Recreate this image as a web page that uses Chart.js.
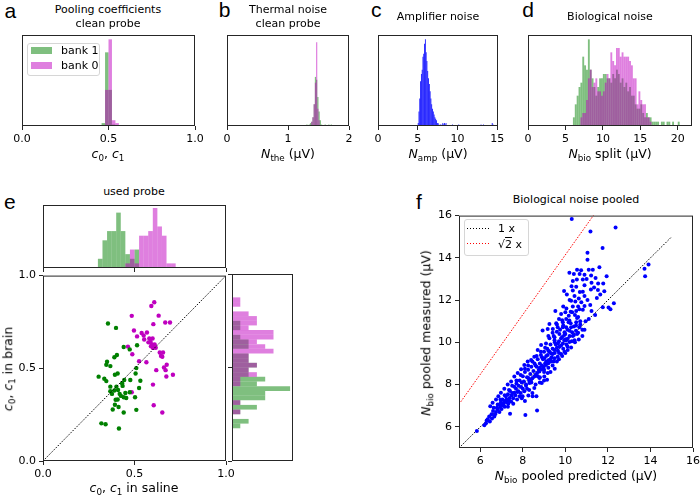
<!DOCTYPE html>
<html>
<head>
<meta charset="utf-8">
<script src="https://cdn.jsdelivr.net/npm/chart.js@4.4.1/dist/chart.umd.min.js"></script>
<style>
body { margin: 0; background: #fff; }
#fig { position: relative; width: 700px; height: 496px; overflow: hidden; background: #fff;
  font-family: 'DejaVu Sans', sans-serif; font-size: 11px; color: #000; }
#fig canvas { position: absolute; }
.t { position: absolute; white-space: nowrap; line-height: 11px; }
.lab { position: absolute; white-space: nowrap; font-size: 12.5px; line-height: 12.5px; }
.t sub, .lab sub { font-size: 70%; vertical-align: baseline; position: relative; top: 0.3em; }
.letter { position: absolute; font-family: 'Liberation Sans', Arial, sans-serif; font-size: 21px; line-height: 21px; }
.leg { position: absolute; border: 1px solid #d6d6d6; border-radius: 3px; background: rgba(255,255,255,0.8); }
.patch { position: absolute; width: 21px; height: 7px; }
.dots { position: absolute; width: 23px; height: 1px; }
</style>
</head>
<body>
<div id="fig"></div>
<script>
// a: pooling coefficients, clean probe (bins of 0.02 starting at 0.46)
const poolBinStart = 0.46, poolBinWidth = 0.02;
const poolBank1 = [2, 51, 25, 1, 0];
const poolBank0 = [0, 25, 60, 4, 2];
const unitTicks = [0, 0.5, 1];
const unitTickLabels = ['0.0', '0.5', '1.0'];

// b: thermal noise, clean probe (bins of 0.02 starting at 1.28)
const thermBinStart = 1.28, thermBinWidth = 0.02;
const thermBank1 = [0, 1, 0, 1, 2, 3, 6, 15, 34, 32, 20, 10, 4, 1, 0, 0, 1, 0, 0, 1, 0, 1];
const thermBank0 = [0, 0, 0, 0, 0, 3, 6, 15, 30, 58, 12, 4, 0, 0, 0, 0, 0, 0, 0, 0, 0, 0];
const thermTicks = [0, 1, 2];
const thermTickLabels = ['0', '1', '2'];

// c: amplifier noise (bins of 0.1 starting at 5.0)
const ampBinStart = 5.0, ampBinWidth = 0.1;
const ampCounts = [
  2, 10, 19, 31, 36, 39, 48, 50, 57, 60,
  51, 45, 38, 33, 29, 24, 19, 15, 12, 10,
  8, 6, 5, 4, 2, 2, 1, 0, 1, 0,
  1, 2, 1, 2, 1, 2, 0, 0, 0, 0,
  0, 0, 0, 1, 0, 0, 0, 0, 0, 0,
  0, 1, 0, 0, 0, 0, 0, 0, 0, 0,
  0, 0, 0, 0, 0, 0, 0, 0, 0, 0,
  0, 0, 0, 0, 0, 0, 0, 0, 0, 1,
  0, 0, 1, 0, 0, 0, 0, 0, 0, 0,
  0, 0, 0, 2, 1
];
const ampTicks = [0, 5, 10, 15];
const ampTickLabels = ['0', '5', '10', '15'];

// d: biological noise split (bins of 0.25 starting at 6.0)
const bioBinStart = 6.0, bioBinWidth = 0.25;
const bioBank1 = [
  2, 5, 7, 9, 10, 16, 14, 13, 20, 13, 11, 9, 7, 9, 11, 11,
  12, 12, 11, 11, 10, 12, 11, 13, 12, 10, 11, 9, 10, 8, 9, 7,
  7, 5, 4, 4, 5, 3, 2, 3, 2, 2, 1, 1, 1, 1, 0, 1,
  1, 0, 1, 1, 0, 1, 0, 0, 1
];
const bioBank0 = [
  0, 0, 0, 0, 2, 3, 3, 6, 11, 13, 9, 10, 11, 8, 8, 7,
  8, 10, 12, 11, 17, 15, 14, 18, 18, 16, 17, 16, 16, 16, 15, 14,
  11, 11, 5, 8, 6, 5, 5, 2, 2, 1, 0, 0, 0, 0, 0, 0,
  0, 0, 0, 0, 0, 0, 0, 0, 0
];
const bioTicks = [0, 5, 10, 15, 20];
const bioTickLabels = ['0', '5', '10', '15', '20'];

// e: used probe, pooling coefficients saline vs brain
const salineBank1 = [0.355, 0.399, 0.441, 0.474, 0.514, 0.404, 0.390, 0.350, 0.346, 0.368,
  0.393, 0.408, 0.304, 0.335, 0.346, 0.444, 0.506, 0.510, 0.477, 0.435,
  0.401, 0.368, 0.368, 0.390, 0.410, 0.419, 0.426, 0.441, 0.455, 0.408,
  0.397, 0.474, 0.503, 0.525, 0.532, 0.393, 0.413, 0.381, 0.441, 0.510,
  0.319, 0.342, 0.415, 0.432, 0.377, 0.450];
const brainBank1 = [0.742, 0.718, 0.615, 0.602, 0.624, 0.572, 0.560, 0.535, 0.519, 0.512,
  0.465, 0.472, 0.455, 0.444, 0.431, 0.437, 0.472, 0.501, 0.437, 0.405,
  0.401, 0.401, 0.376, 0.380, 0.383, 0.362, 0.351, 0.344, 0.340, 0.332,
  0.330, 0.371, 0.344, 0.394, 0.433, 0.303, 0.291, 0.278, 0.262, 0.276,
  0.203, 0.198, 0.175, 0.419, 0.362, 0.367];
const salineBank0 = [0.608, 0.592, 0.632, 0.485, 0.668, 0.694, 0.603, 0.497, 0.539, 0.568,
  0.514, 0.550, 0.581, 0.599, 0.588, 0.576, 0.464, 0.590, 0.601, 0.616,
  0.638, 0.656, 0.645, 0.652, 0.488, 0.565, 0.676, 0.661, 0.710, 0.674,
  0.619, 0.485, 0.601, 0.605, 0.652, 0.525, 0.595, 0.553, 0.610, 0.670];
const brainBank0 = [0.856, 0.836, 0.784, 0.783, 0.747, 0.747, 0.738, 0.704, 0.690, 0.693,
  0.672, 0.677, 0.661, 0.661, 0.642, 0.640, 0.617, 0.619, 0.610, 0.611,
  0.585, 0.585, 0.567, 0.562, 0.576, 0.533, 0.519, 0.504, 0.465, 0.456,
  0.490, 0.371, 0.412, 0.301, 0.262, 0.538, 0.628, 0.655, 0.628, 0.490];
const unitDiagonal = [0, 1];
// marginal histograms (bins of 0.025 starting at 0.3 / 0.175)
const salineBinStart = 0.3, marginBinWidth = 0.025;
const salineHist1 = [2, 6, 8, 8, 12, 8, 3, 2, 4, 0, 0, 0, 0, 0, 0, 0, 0];
const salineHist0 = [0, 0, 0, 0, 0, 0, 1, 4, 1, 7, 7, 8, 13, 9, 7, 1, 1];
const brainBinStart = 0.175;
const brainHist1 = [1, 2, 0, 1, 3, 1, 4, 4, 7, 3, 4, 2, 2, 3, 2, 2, 0, 2, 2, 1, 0, 1, 1, 0, 0, 0, 0, 0];
const brainHist0 = [0, 0, 0, 1, 0, 1, 0, 0, 0, 1, 1, 3, 2, 3, 2, 2, 5, 4, 3, 5, 5, 2, 3, 3, 2, 0, 1, 1];

// f: biological noise pooled, predicted vs measured
const fPredicted = [
  10.30, 11.18, 12.36, 11.75, 11.04, 11.04, 13.72, 13.91, 13.75, 11.60,
  10.55, 10.74, 10.19, 10.40, 10.67, 11.10, 11.29, 11.21, 11.42, 11.00,
  10.82, 10.54, 11.23, 11.54, 11.94, 11.78, 10.29, 10.51, 10.68, 10.82,
  9.94, 10.07, 10.43, 10.63, 11.04, 11.53, 11.64, 11.83, 12.03, 12.12,
  12.28, 11.48, 11.76, 11.17, 11.23, 10.90, 10.47, 10.27, 9.53, 9.80,
  10.00, 10.16, 10.32, 10.51, 10.66, 10.82, 10.04, 9.25, 9.57, 9.88,
  10.19, 10.51, 10.66, 10.95, 8.93, 9.17, 9.41, 9.64, 9.88, 10.04,
  10.27, 9.72, 9.96, 10.32, 10.55, 9.49, 9.25, 10.11, 10.63, 10.35,
  10.90, 11.35, 10.20, 9.90, 10.75, 11.40, 10.60, 10.35, 9.70, 11.10,
  10.90, 10.80, 10.45, 5.84, 6.27, 6.35, 6.42, 6.19, 6.53, 6.66,
  6.74, 6.82, 6.63, 6.93, 7.05, 6.97, 7.13, 7.24, 7.32, 7.37,
  7.47, 7.40, 8.12, 8.67, 7.60, 7.68, 7.79, 7.92, 7.73, 7.99,
  8.10, 8.26, 8.46, 8.64, 8.07, 8.15, 8.31, 8.39, 8.54, 8.26,
  8.67, 8.78, 8.89, 8.98, 9.09, 9.20, 9.33, 8.78, 9.01, 9.17,
  8.89, 9.14, 8.54, 9.49, 9.64, 9.80, 9.96, 10.11, 10.27, 9.49,
  9.72, 9.88, 9.33, 9.17, 9.01, 10.19, 10.43, 10.04, 9.49, 9.09,
  8.86, 8.70, 8.54, 8.39, 8.23, 8.07, 7.92, 7.76, 7.60, 7.45,
  7.29, 7.13, 6.97, 6.85, 6.74, 6.58, 6.47, 6.82, 6.30, 6.45,
  6.55, 6.60, 6.70, 6.78, 6.90, 6.95, 7.00, 7.05, 7.10, 7.15,
  7.20, 7.25, 7.30, 7.35, 7.40, 7.45, 7.50, 7.55, 7.60, 7.65,
  7.70, 7.75, 7.80, 7.85, 7.90, 7.95, 8.00, 8.00, 8.05, 8.10,
  8.15, 8.20, 8.25, 8.30, 8.35, 8.40, 8.45, 8.50, 8.55, 8.60,
  8.65, 8.70, 8.75, 8.80, 8.85, 8.90, 8.95, 9.00, 9.05, 9.10,
  9.15, 9.20, 9.25, 9.30, 9.35, 9.40, 9.45, 9.50, 9.55, 9.60,
  9.65, 9.70, 9.75, 9.80, 9.85, 9.90, 9.95, 10.00, 10.05, 10.10,
  10.20, 10.25, 10.35, 10.40, 10.50, 10.55, 10.70, 9.30, 9.40, 9.60,
  9.00, 8.80, 9.50, 8.45, 8.30, 7.95, 9.70, 9.85, 10.00, 8.60,
  8.70, 8.80, 8.90, 9.00, 9.10, 9.20, 9.30, 9.40, 9.50, 9.60,
  9.70, 9.80, 9.90, 10.00, 10.10, 10.20, 10.30, 10.40, 10.50, 10.60,
  10.70, 10.80, 9.20, 9.45, 9.65, 9.95, 10.15, 10.45, 10.05, 10.25,
  9.85, 9.60, 9.40, 9.20, 9.05, 8.85, 8.65, 8.45, 8.25, 8.10,
  7.90, 7.70, 7.50, 7.35, 7.15, 6.95, 8.60, 8.80, 9.00, 8.40,
  8.20, 7.85, 7.55, 7.30, 10.60, 10.90, 11.20, 10.35, 10.90
];
const fMeasured = [
  15.84, 15.25, 15.44, 14.47, 14.24, 13.91, 13.49, 13.69, 13.13, 13.55,
  13.44, 13.41, 13.29, 13.24, 13.24, 13.44, 13.44, 13.16, 13.05, 13.00,
  12.97, 12.97, 12.82, 12.79, 13.13, 12.79, 12.66, 12.63, 12.38, 12.39,
  12.43, 12.27, 12.20, 12.08, 12.00, 12.48, 12.26, 12.42, 11.65, 11.57,
  11.85, 12.10, 11.66, 11.77, 11.49, 11.72, 11.93, 11.97, 11.49, 11.34,
  11.42, 11.26, 11.42, 11.48, 11.57, 11.54, 11.10, 10.87, 10.90, 10.95,
  11.03, 10.95, 10.71, 11.00, 10.56, 10.63, 10.63, 10.71, 10.71, 10.71,
  10.71, 10.40, 10.48, 10.48, 10.40, 10.24, 10.20, 10.17, 10.14, 12.90,
  12.70, 12.60, 12.00, 11.70, 11.90, 11.30, 11.20, 11.70, 11.10, 11.10,
  10.60, 10.30, 10.00, 5.80, 6.17, 6.36, 6.49, 6.08, 6.60, 6.49,
  6.70, 6.83, 6.91, 6.94, 7.02, 7.17, 7.23, 7.30, 7.11, 7.37,
  7.48, 6.62, 6.56, 6.77, 7.61, 7.80, 7.69, 7.89, 7.30, 7.45,
  7.22, 7.48, 7.45, 7.45, 7.69, 8.00, 8.08, 8.23, 8.39, 8.31,
  8.55, 8.62, 8.73, 8.83, 8.93, 9.01, 9.09, 8.31, 8.39, 8.55,
  8.08, 8.23, 7.84, 9.25, 9.32, 9.45, 9.56, 9.64, 9.76, 9.64,
  9.79, 9.95, 9.48, 9.40, 9.25, 10.02, 10.10, 10.10, 10.10, 9.95,
  9.87, 9.64, 9.32, 9.17, 9.09, 8.93, 8.73, 8.55, 8.39, 8.15,
  8.00, 7.80, 7.61, 7.45, 7.30, 7.14, 6.98, 7.06, 6.30, 6.25,
  6.40, 6.75, 6.60, 6.90, 6.70, 7.05, 6.85, 7.30, 7.10, 6.95,
  7.45, 7.15, 7.55, 7.25, 7.70, 7.20, 7.60, 7.35, 7.90, 7.50,
  8.05, 7.65, 7.95, 8.20, 7.60, 8.10, 7.80, 8.40, 8.15, 8.60,
  7.95, 8.35, 8.70, 8.20, 8.50, 8.85, 8.30, 8.65, 9.00, 8.45,
  8.85, 9.20, 8.70, 9.00, 9.40, 8.90, 9.20, 9.55, 9.00, 9.35,
  9.70, 9.15, 9.55, 9.90, 9.30, 9.70, 10.30, 9.50, 9.90, 10.50,
  9.60, 10.05, 10.60, 9.85, 10.25, 10.80, 10.10, 10.40, 9.90, 10.60,
  10.30, 10.90, 10.30, 10.75, 10.55, 11.15, 10.85, 8.60, 8.90, 9.10,
  8.20, 8.10, 8.75, 7.60, 7.75, 7.35, 9.20, 9.35, 9.50, 8.90,
  8.40, 8.80, 9.30, 8.70, 9.10, 9.60, 9.20, 9.45, 10.00, 9.75,
  9.50, 10.20, 9.70, 10.15, 9.80, 10.55, 10.05, 10.35, 10.80, 10.45,
  11.00, 10.60, 8.80, 9.10, 9.95, 10.35, 10.95, 11.30, 11.60, 11.45,
  11.05, 10.85, 10.45, 10.30, 9.75, 9.55, 9.35, 9.10, 8.90, 8.75,
  8.45, 8.20, 7.95, 7.75, 7.50, 7.30, 8.00, 8.35, 8.60, 8.10,
  7.80, 7.45, 7.10, 6.95, 11.70, 12.20, 12.50, 12.45, 13.20
];
const refRange = [5, 15];          // reference lines 1 x and sqrt(2) x
const refSlopes = [1, Math.SQRT2];
const pooledTicks = [6, 8, 10, 12, 14, 16];
const pooledTickLabels = ['6', '8', '10', '12', '14', '16'];

const fig = document.getElementById('fig');
Chart.defaults.font.family = "'DejaVu Sans', sans-serif";
Chart.defaults.font.size = 11;
Chart.defaults.color = '#000';
Chart.defaults.animation = false;
Chart.defaults.plugins.legend.display = false;
Chart.defaults.plugins.tooltip.enabled = false;

const GREEN = 'rgba(0,128,0,0.5)', MAGENTA = 'rgba(191,0,191,0.5)';
const SPINE = '#262626';

// matplotlib-like box around each axes
const frame = {
  id: 'frame',
  afterDraw(chart) {
    const a = chart.chartArea, ctx = chart.ctx;
    ctx.save();
    ctx.strokeStyle = SPINE;
    ctx.lineWidth = 1;
    ctx.strokeRect(a.left + 0.5, a.top + 0.5, a.right - a.left - 1, a.bottom - a.top - 1);
    ctx.restore();
  }
};

// ticks: null hides the axis; labels: null gives tick marks only
function linAxis(min, max, ticks, labels, size, horizontal) {
  if (!ticks) return { type: 'linear', min, max, display: false, offset: false };
  return {
    type: 'linear', min, max, offset: false,
    afterBuildTicks: s => { s.ticks = ticks.map(v => ({ value: v })); },
    afterFit: horizontal ? s => { s.height = size; } : s => { s.width = size; },
    ticks: { display: !!labels, callback: (v, i) => labels ? labels[i] : '', padding: 3, autoSkip: false, maxRotation: 0, color: '#000' },
    grid: { drawOnChartArea: false, drawTicks: true, tickLength: 4, color: SPINE, offset: false },
    border: { display: false }
  };
}

// box = [left, top, right, bottom] of the plot area, m = margins [l, t, r, b]
function panel(box, m, type, datasets, xAxis, yAxis, extra) {
  const w = box[2] - box[0] + m[0] + m[2], h = box[3] - box[1] + m[1] + m[3];
  const cv = document.createElement('canvas');
  cv.width = w; cv.height = h;
  cv.style.left = (box[0] - m[0]) + 'px'; cv.style.top = (box[1] - m[1]) + 'px';
  cv.style.width = w + 'px'; cv.style.height = h + 'px';
  fig.appendChild(cv);
  return new Chart(cv, {
    type: type,
    data: { datasets: datasets },
    options: Object.assign({
      responsive: false, devicePixelRatio: 1,
      layout: { padding: { left: yAxis.display === false ? m[0] : 0, top: m[1], right: m[2], bottom: xAxis.display === false ? m[3] : 0 } },
      scales: { x: xAxis, y: yAxis }
    }, extra || {}),
    plugins: [frame]
  });
}

function bins(start, width, counts) {
  return counts.map((c, i) => ({ x: start + (i + 0.5) * width, y: c }));
}
function binsH(start, width, counts) {
  return counts.map((c, i) => ({ y: start + (i + 0.5) * width, x: c }));
}
function histSet(data, color, order) {
  return { data, backgroundColor: color, borderWidth: 0, barPercentage: 1, categoryPercentage: 1,
           grouped: false, inflateAmount: 0, order };
}
function pts(xs, ys) { return xs.map((x, i) => ({ x, y: ys[i] })); }
function dottedLine(data, color) {
  return { type: 'line', data, borderColor: color, borderWidth: 1, borderDash: [1.5, 1.5],
           pointRadius: 0, fill: false };
}

// ---- top row
panel([22, 35, 195, 126], [14, 6, 14, 22], 'bar', [
  histSet(bins(poolBinStart, poolBinWidth, poolBank1), GREEN, 1),
  histSet(bins(poolBinStart, poolBinWidth, poolBank0), MAGENTA, 0)
], linAxis(0, 1, unitTicks, unitTickLabels, 22, true), linAxis(0, 63, null));

panel([227, 35, 349, 126], [14, 6, 14, 22], 'bar', [
  histSet(bins(thermBinStart, thermBinWidth, thermBank1), GREEN, 1),
  histSet(bins(thermBinStart, thermBinWidth, thermBank0), MAGENTA, 0)
], linAxis(0, 2, thermTicks, thermTickLabels, 22, true), linAxis(0, 63, null));

panel([378, 35, 498, 126], [14, 6, 14, 22], 'bar', [
  histSet(bins(ampBinStart, ampBinWidth, ampCounts), '#0000ff', 0)
], linAxis(0, 15.08, ampTicks, ampTickLabels, 22, true), linAxis(0, 63, null));

panel([528, 35, 692, 126], [14, 6, 8, 22], 'bar', [
  histSet(bins(bioBinStart, bioBinWidth, bioBank1), GREEN, 1),
  histSet(bins(bioBinStart, bioBinWidth, bioBank0), MAGENTA, 0)
], linAxis(0, 21.9, bioTicks, bioTickLabels, 22, true), linAxis(0, 21, null));

// ---- e: marginal histograms and scatter
panel([43, 205, 226, 268], [14, 6, 14, 10], 'bar', [
  histSet(bins(salineBinStart, marginBinWidth, salineHist1), GREEN, 1),
  histSet(bins(salineBinStart, marginBinWidth, salineHist0), MAGENTA, 0)
], linAxis(0, 1, unitTicks, null, 10, true), linAxis(0, 13.65, null));

panel([232, 274, 293, 461], [10, 8, 6, 10], 'bar', [
  histSet(binsH(brainBinStart, marginBinWidth, brainHist1), GREEN, 1),
  histSet(binsH(brainBinStart, marginBinWidth, brainHist0), MAGENTA, 0)
], linAxis(0, 7.35, null), linAxis(0, 1, unitTicks, null, 10, false), { indexAxis: 'y' });

panel([43, 274, 226, 461], [32, 8, 14, 22], 'scatter', [
  dottedLine(unitDiagonal.map(v => ({ x: v, y: v })), '#000'),
  { data: pts(salineBank1, brainBank1), backgroundColor: '#008000', pointRadius: 2.2, borderWidth: 0 },
  { data: pts(salineBank0, brainBank0), backgroundColor: '#bf00bf', pointRadius: 2.2, borderWidth: 0 }
], linAxis(0, 1, unitTicks, unitTickLabels, 22, true), linAxis(0, 1, unitTicks, unitTickLabels, 32, false));

// ---- f: pooled biological noise
panel([459, 214, 693, 448], [32, 8, 10, 22], 'scatter', [
  { data: pts(fPredicted, fMeasured), backgroundColor: '#0000ff', pointRadius: 2, borderWidth: 0 },
  dottedLine(refRange.map(v => ({ x: v, y: v * refSlopes[0] })), '#000'),
  dottedLine(refRange.map(v => ({ x: v, y: v * refSlopes[1] })), '#ff0000')
], linAxis(5, 16, pooledTicks, pooledTickLabels, 22, true), linAxis(5, 16, pooledTicks, pooledTickLabels, 32, false));

// ---- text
const ASC = { t: 9.3, lab: 10.6, letter: 17.8 };
function addText(html, x, base, align, cls) {
  cls = cls || 't';
  const d = document.createElement('div');
  d.className = cls;
  d.innerHTML = html;
  d.style.top = (base - ASC[cls]) + 'px';
  d.style.left = x + 'px';
  if (align === 'center') d.style.transform = 'translateX(-50%)';
  fig.appendChild(d);
}
function addRot(html, cx, cy) {
  const d = document.createElement('div');
  d.className = 'lab';
  d.innerHTML = html;
  d.style.left = cx + 'px'; d.style.top = cy + 'px';
  d.style.transform = 'translate(-50%, -50%) rotate(-90deg)';
  fig.appendChild(d);
}
const c01 = '<i>c</i><sub>0</sub>, <i>c</i><sub>1</sub>';
addText('a', 4.5, 17.3, 'left', 'letter');
addText('b', 218.7, 16.7, 'left', 'letter');
addText('c', 371, 16.7, 'left', 'letter');
addText('d', 522.3, 16.7, 'left', 'letter');
addText('e', 4, 208.5, 'left', 'letter');
addText('f', 416, 208.5, 'left', 'letter');
addText('Pooling coefficients', 108, 13.3, 'center');
addText('clean probe', 108, 27.3, 'center');
addText('Thermal noise', 288, 13.3, 'center');
addText('clean probe', 288, 27.3, 'center');
addText('Amplifier noise', 438, 20.5, 'center');
addText('Biological noise', 610, 20.5, 'center');
addText(c01, 108, 158.8, 'center', 'lab');
addText('<i>N</i><sub>the</sub> (μV)', 288, 158.8, 'center', 'lab');
addText('<i>N</i><sub>amp</sub> (μV)', 438, 158.8, 'center', 'lab');
addText('<i>N</i><sub>bio</sub> split (μV)', 610, 158.8, 'center', 'lab');
addText('used probe', 134, 195.3, 'center');
addText(c01 + ' in saline', 134, 492.5, 'center', 'lab');
addRot(c01 + ' in brain', 9, 369);
addText('Biological noise pooled', 576, 203.5, 'center');
addText('<i>N</i><sub>bio</sub> pooled predicted (μV)', 576, 480.8, 'center', 'lab');
addRot('<i>N</i><sub>bio</sub> pooled measured (μV)', 427.3, 333);

// legends
function addBox(l, t, w, h, cls, style) {
  const d = document.createElement('div');
  d.className = cls;
  d.style.left = l + 'px'; d.style.top = t + 'px';
  if (w) d.style.width = w + 'px';
  if (h) d.style.height = h + 'px';
  Object.assign(d.style, style || {});
  fig.appendChild(d);
}
function dotFill(color) {
  return { background: 'repeating-linear-gradient(90deg, ' + color + ' 0 1.5px, transparent 1.5px 3px)' };
}
addBox(27, 43, 71, 31, 'leg');
addBox(31, 47, 0, 0, 'patch', { background: GREEN });
addBox(31, 62, 0, 0, 'patch', { background: MAGENTA });
addText('bank 1', 61, 54, 'left');
addText('bank 0', 61, 69, 'left');
addBox(464, 219, 63, 35, 'leg');
addBox(467, 228, 0, 0, 'dots', dotFill('#000'));
addBox(467, 243, 0, 0, 'dots', dotFill('#ff0000'));
addText('1 x', 498, 232, 'left');
addText('√<span style="text-decoration: overline">2</span> x', 498, 248, 'left');
</script>
</body>
</html>
